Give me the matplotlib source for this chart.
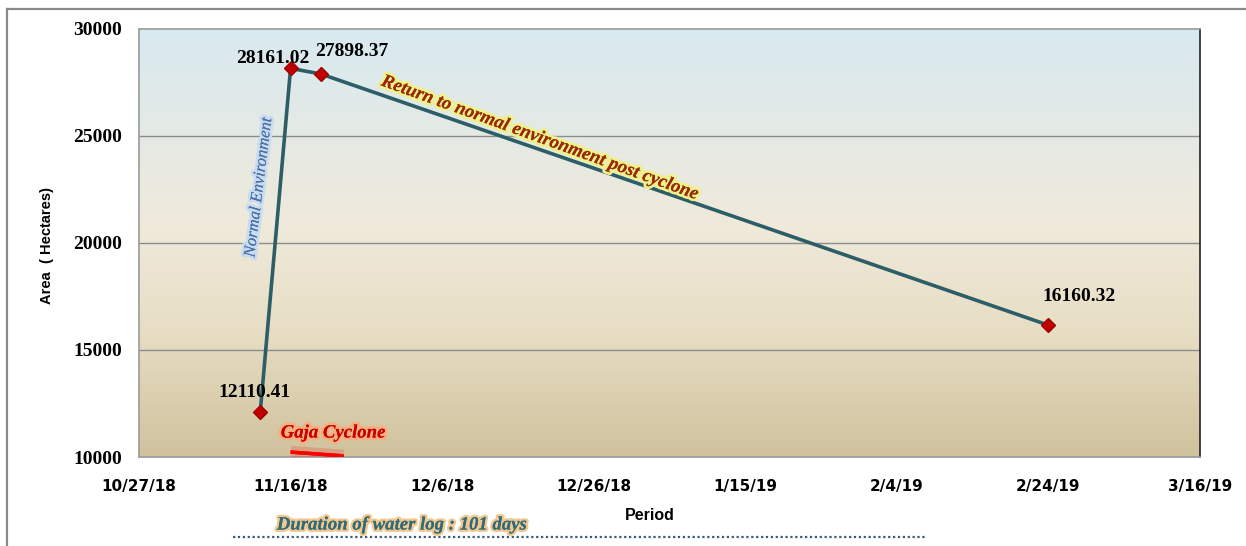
import datetime as dt
import numpy as np
import matplotlib
matplotlib.use('Agg')
import matplotlib.pyplot as plt
import matplotlib.dates as mdates
import matplotlib.patheffects as pe
from matplotlib.colors import LinearSegmentedColormap
from matplotlib.lines import Line2D

# data
dates = [dt.date(2018, 11, 12), dt.date(2018, 11, 16),
         dt.date(2018, 11, 20), dt.date(2019, 2, 24)]
area = [12110.41, 28161.02, 27898.37, 16160.32]
point_labels = ['12110.41', '28161.02', '27898.37', '16160.32']
label_offsets = [(-4, 14), (-13, 7), (22, 16), (22, 21)]

x_start = dt.date(2018, 10, 27)
x_end = dt.date(2019, 3, 16)
tick_dates = [x_start + dt.timedelta(days=20 * i) for i in range(8)]
y_ticks = [10000, 15000, 20000, 25000, 30000]

fig = plt.figure(figsize=(12.46, 5.46), dpi=100)
ax = fig.add_axes([139 / 1246, 1 - 457 / 546, 1061 / 1246, 428 / 546])

# gradient background of the plot area
cmap = LinearSegmentedColormap.from_list(
    'bg', [(0.0, '#d0c29d'), (0.3, '#e8dec5'), (0.55, '#efeadb'), (1.0, '#d8e9f0')])
grad = np.linspace(0, 1, 256).reshape(-1, 1)
ax.imshow(grad, extent=[0, 1, 0, 1], transform=ax.transAxes, origin='lower',
          aspect='auto', cmap=cmap, zorder=0)

ax.set_xlim(mdates.date2num(x_start), mdates.date2num(x_end))
ax.set_ylim(10000, 30000)

for y in y_ticks[1:-1]:
    ax.axhline(y, color='#8c8c8c', lw=1, zorder=1)

# main series
ax.plot(dates, area, color='#2d5e68', lw=2.6, zorder=3)
ax.plot(dates, area, linestyle='none', marker='D', ms=7.5,
        markerfacecolor='#c00000', markeredgecolor='#a00000', zorder=4)

for d, v, t, off in zip(dates, area, point_labels, label_offsets):
    ax.annotate(t, (d, v), xytext=off, textcoords='offset points',
                ha='center', va='center', fontsize=14, fontweight='bold',
                family='Liberation Serif', color='black', zorder=5)

# axes styling
ax.set_xticks(mdates.date2num(tick_dates))
ax.set_xticklabels([f'{d.month}/{d.day}/{d:%y}' for d in tick_dates])
ax.set_yticks(y_ticks)
ax.set_yticklabels([str(y) for y in y_ticks])
ax.tick_params(axis='x', length=0, pad=16, labelsize=11)
ax.tick_params(axis='y', length=0, pad=12, labelsize=14)
for lab in ax.get_xticklabels():
    lab.set_fontweight('bold')
    lab.set_family('DejaVu Sans')
for lab in ax.get_yticklabels():
    lab.set_fontweight('bold')
    lab.set_family('Liberation Serif')

for s in ['left', 'bottom', 'top']:
    ax.spines[s].set_color('#9a9a9a')
    ax.spines[s].set_linewidth(1.2)
ax.spines['right'].set_color('#222222')
ax.spines['right'].set_linewidth(1.2)

fig.text(47 / 1246, 1 - 245 / 546, 'Area  ( Hectares)', rotation=90,
         ha='center', va='center', fontsize=10.5, fontweight='bold',
         family='Liberation Sans')
fig.text(650 / 1246, 1 - 515 / 546, 'Period', ha='center', va='center',
         fontsize=11.5, fontweight='bold', family='Liberation Sans')

# annotations
ax.text(0.113, 0.63, 'Normal Environment', transform=ax.transAxes,
        rotation=83, ha='center', va='center', fontsize=12, style='italic',
        family='Liberation Serif', color='#4d6fa8', zorder=5,
        path_effects=[pe.withStroke(linewidth=4, foreground='#c8dcef'), pe.Normal()])

ax.text(0.378, 0.745, 'Return to normal environment post cyclone',
        transform=ax.transAxes, rotation=-19.9, ha='center', va='center',
        fontsize=13.5, style='italic', fontweight='bold',
        family='Liberation Serif', color='#9a2a05', zorder=5,
        path_effects=[pe.withStroke(linewidth=4, foreground='#eef08a'), pe.Normal()])

ax.text(0.183, 0.056, 'Gaja Cyclone', transform=ax.transAxes,
        ha='center', va='center', fontsize=13.5, style='italic',
        fontweight='bold', family='Liberation Serif', color='#c80000', zorder=5,
        path_effects=[pe.withStroke(linewidth=4, foreground='#f6b080'), pe.Normal()])

cyclone_x = [dt.date(2018, 11, 16), dt.date(2018, 11, 23)]
cyclone_y = [10230, 10050]
ax.plot(cyclone_x, cyclone_y, color='#ff0000', lw=2.5, solid_capstyle='butt',
        zorder=5, path_effects=[pe.withStroke(linewidth=9, foreground='#ff0000', alpha=0.18),
                                pe.Normal()])

fig.text(402 / 1246, 1 - 525 / 546, 'Duration of water log : 101 days',
         ha='center', va='center', fontsize=13.5, style='italic',
         fontweight='bold', family='Liberation Serif', color='#2f6b78',
         path_effects=[pe.withStroke(linewidth=3.5, foreground='#f2c890'), pe.Normal()])
fig.add_artist(Line2D([233 / 1246, 927 / 1246], [1 - 537 / 546, 1 - 537 / 546],
                      color='#3b587e', lw=1.6, linestyle=(0, (1, 1.2))))

# outer frame of the chart
fig.add_artist(Line2D([7 / 1246, 1], [1 - 9 / 546, 1 - 9 / 546], color='#8a8a8a', lw=1.6))
fig.add_artist(Line2D([7 / 1246, 7 / 1246], [0, 1 - 9 / 546], color='#8a8a8a', lw=1.6))

fig.savefig('out.png', dpi=100)
